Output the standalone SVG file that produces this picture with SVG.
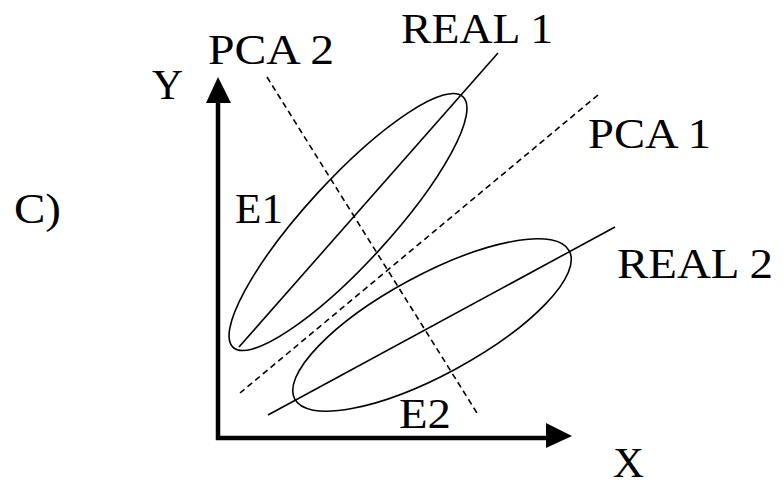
<svg xmlns="http://www.w3.org/2000/svg" width="783" height="487" viewBox="0 0 783 487">
<style>
.t{font-family:"Liberation Serif","Times New Roman",serif;font-size:43px;fill:#000}
.thin{stroke:#000;stroke-width:1.6;fill:none}
.dash{stroke:#000;stroke-width:1.6;fill:none;stroke-dasharray:6 4}
.axis{stroke:#000;stroke-width:4.5;fill:none}
</style>
<rect width="783" height="487" fill="#fff"/>
<g id="axes">
<path class="axis" d="M218,98 V438 H550"/>
<polygon points="206,103 218,77 231,103" fill="#000"/>
<polygon points="546,423 572,436 546,448" fill="#000"/>
</g>
<g id="connectors">
<line class="thin" x1="498" y1="53" x2="239" y2="347"/>
<line class="thin" x1="268" y1="415" x2="615" y2="227"/>
<line class="dash" x1="267" y1="77" x2="477" y2="413"/>
<line class="dash" x1="598" y1="95" x2="240" y2="393"/>
</g>
<g id="E1">
<ellipse class="thin" cx="348" cy="222" rx="170" ry="42" transform="rotate(-47.5 348 222)"/>
<text class="t" x="235" y="223" textLength="48" lengthAdjust="spacingAndGlyphs">E1</text>
</g>
<g id="E2">
<ellipse class="thin" cx="432" cy="325" rx="156" ry="50" transform="rotate(-28.4 432 325)"/>
<text class="t" x="399" y="428" textLength="52" lengthAdjust="spacingAndGlyphs">E2</text>
</g>
<g id="labels">
<text class="t" x="14" y="223" textLength="47" lengthAdjust="spacingAndGlyphs">C)</text>
<text class="t" x="152" y="99">Y</text>
<text class="t" x="613" y="477">X</text>
<text class="t" x="208" y="64" textLength="126" lengthAdjust="spacingAndGlyphs">PCA 2</text>
<text class="t" x="401" y="43" textLength="152" lengthAdjust="spacingAndGlyphs">REAL 1</text>
<text class="t" x="588" y="148" textLength="123" lengthAdjust="spacingAndGlyphs">PCA 1</text>
<text class="t" x="617" y="278" textLength="156" lengthAdjust="spacingAndGlyphs">REAL 2</text>
</g>
</svg>
